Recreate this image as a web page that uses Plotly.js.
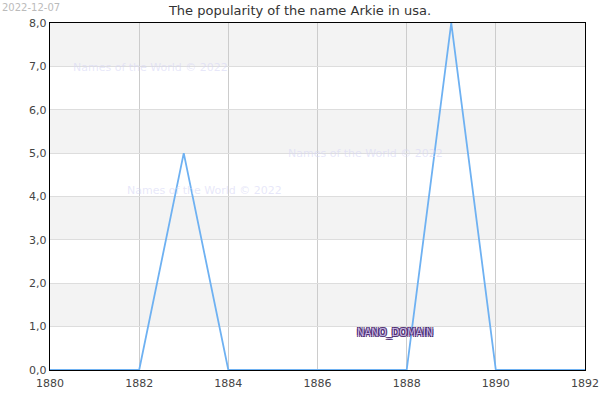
<!DOCTYPE html>
<html>
<head>
<meta charset="utf-8">
<script src="https://cdn.plot.ly/plotly-3.0.1.min.js"></script>
<style>
  body { margin: 0; background: #fff; }
  #chart { width: 600px; height: 400px; }
</style>
</head>
<body>
<div id="chart"></div>
<script>
// Popularity of the name Arkie, per year
const years = [1880, 1881, 1882, 1883, 1884, 1885, 1886, 1887, 1888, 1889, 1890, 1891, 1892];
const counts = [0, 0, 0, 5, 0, 0, 0, 0, 0, 8, 0, 0, 0];
const yTicks = [0, 1, 2, 3, 4, 5, 6, 7, 8];
const xTicks = [1880, 1882, 1884, 1886, 1888, 1890, 1892];

const FONT = 'DejaVu Sans, sans-serif';

// alternating grey bands behind the plot
const bands = [];
for (let i = 1; i < yTicks.length; i += 2) {
  bands.push({
    type: 'rect', xref: 'paper', yref: 'y', layer: 'below',
    x0: 0, x1: 1, y0: yTicks[i], y1: yTicks[i + 1],
    fillcolor: '#f3f3f3', line: { width: 0 }
  });
}

const watermark = (x, y) => ({
  text: 'Names of the World © 2022', xref: 'paper', yref: 'paper',
  x: x, y: y, xanchor: 'center', yanchor: 'middle', showarrow: false,
  font: { family: FONT, size: 11, color: 'rgba(215,215,245,0.6)' }
});

const data = [{
  x: years,
  y: counts,
  type: 'scatter',
  mode: 'lines',
  line: { color: '#6eb1f2', width: 1.8 },
  hoverinfo: 'x+y'
}];

const layout = {
  width: 600,
  height: 400,
  margin: { t: 23, b: 30, l: 50, r: 15 },
  paper_bgcolor: 'white',
  plot_bgcolor: 'white',
  separators: ',.',
  showlegend: false,
  title: {
    text: 'The popularity of the name Arkie in usa.',
    x: 0.5, xanchor: 'center', y: 0.975, yanchor: 'middle',
    font: { family: FONT, size: 13, color: '#333' }
  },
  xaxis: {
    range: [1880, 1892],
    tickvals: xTicks,
    ticks: '',
    ticklabelstandoff: 3,
    showgrid: true,
    gridcolor: '#cccccc',
    gridwidth: 1,
    zeroline: false,
    showline: true,
    linecolor: '#000',
    linewidth: 1.2,
    mirror: true,
    tickfont: { family: FONT, size: 11, color: '#444' }
  },
  yaxis: {
    range: [0, 8],
    tickvals: yTicks,
    tickformat: '.1f',
    ticks: '',
    showgrid: true,
    gridcolor: '#dddddd',
    gridwidth: 1,
    zeroline: false,
    showline: true,
    linecolor: '#000',
    linewidth: 1.2,
    mirror: true,
    tickfont: { family: FONT, size: 11, color: '#444' }
  },
  shapes: bands,
  annotations: [
    {
      text: '2022-12-07', xref: 'paper', yref: 'paper',
      x: -0.094, y: 1.066, xanchor: 'left', yanchor: 'top', showarrow: false,
      font: { family: FONT, size: 10, color: '#bbbbbb' }
    },
    watermark(0.187, 0.873),
    watermark(0.589, 0.625),
    watermark(0.288, 0.516),
    {
      text: 'NANO_DOMAIN', xref: 'paper', yref: 'paper',
      x: 0.645, y: 0.107, xanchor: 'center', yanchor: 'middle', showarrow: false,
      font: {
        family: FONT, size: 10, color: '#c9b6e4',
        shadow: '-1px -1px 0 #4e2f72, 1px -1px 0 #4e2f72, -1px 1px 0 #4e2f72, 1px 1px 0 #4e2f72'
      }
    }
  ]
};

Plotly.newPlot('chart', data, layout, { displayModeBar: false, staticPlot: true });
</script>
</body>
</html>
